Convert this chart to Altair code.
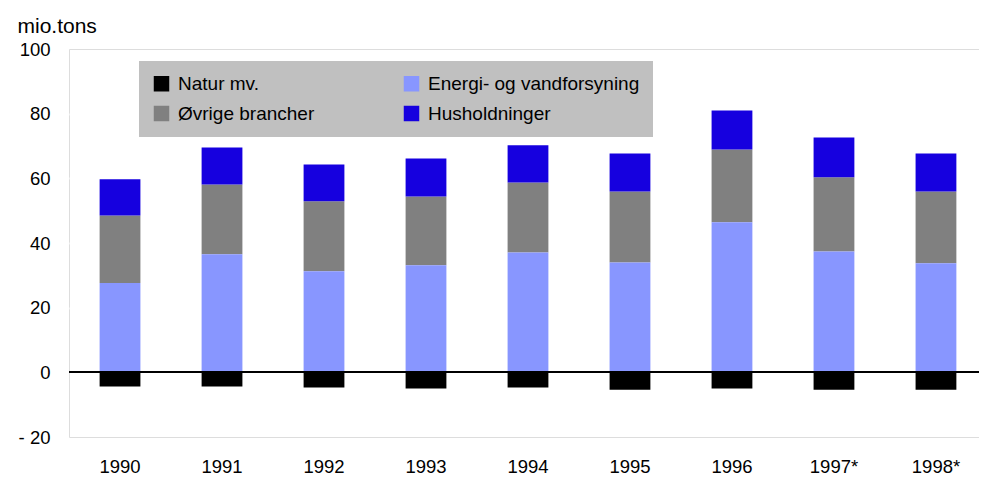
import altair as alt
import pandas as pd

years = ["1990", "1991", "1992", "1993", "1994", "1995", "1996", "1997*", "1998*"]
natur = [-4.4, -4.4, -4.7, -5.0, -4.7, -5.4, -5.0, -5.4, -5.4]
energi = [27.6, 36.5, 31.3, 33.1, 37.1, 34.0, 46.4, 37.4, 33.7]
ovrige = [20.9, 21.6, 21.6, 21.3, 21.6, 21.9, 22.5, 22.9, 22.2]
hush = [11.2, 11.4, 11.4, 11.7, 11.5, 11.8, 12.1, 12.3, 11.8]

# legend order (column-major: col 1 = Natur, Øvrige; col 2 = Energi, Husholdninger)
series_names = ["Natur mv.", "Øvrige brancher", "Energi- og vandforsyning", "Husholdninger"]
series_colors = ["#000000", "#808080", "#8896FF", "#1600DF"]
stack_order = {"Natur mv.": 0, "Energi- og vandforsyning": 1, "Øvrige brancher": 2, "Husholdninger": 3}
series_values = {"Natur mv.": natur, "Energi- og vandforsyning": energi,
                 "Øvrige brancher": ovrige, "Husholdninger": hush}
y_ticks = [-20, 0, 20, 40, 60, 80, 100]

rows = []
for i, yr in enumerate(years):
    for name in series_names:
        rows.append({"year": yr, "series": name, "value": series_values[name][i],
                     "ord": stack_order[name]})
df = pd.DataFrame(rows)

FONT = "Liberation Sans"

base = alt.Chart(df)

bars = base.mark_bar().encode(
    x=alt.X(
        "year:N",
        sort=years,
        scale=alt.Scale(paddingInner=0.6, paddingOuter=0.261, align=0.575),
        axis=alt.Axis(
            title=None, labelAngle=0, ticks=False, tickSize=0, domain=False,
            labelPadding=29, labelBaseline="middle", labelFont=FONT,
            labelFontSize=18.5, labelColor="black",
        ),
    ),
    y=alt.Y(
        "value:Q",
        stack="zero",
        scale=alt.Scale(domain=[-20, 100], nice=False),
        axis=alt.Axis(
            values=y_ticks,
            title="mio.tons",
            titleAngle=0, titleAlign="left", titleBaseline="alphabetic",
            titleX=-52, titleY=-17, titleFont=FONT, titleFontSize=21,
            titleFontWeight="normal", titleColor="black",
            labelExpr="datum.value < 0 ? '-  ' + format(-datum.value, 'd') : datum.label",
            labelFont=FONT, labelFontSize=18.5, labelColor="black",
            labelPadding=19, ticks=False, tickSize=0, domain=False,
            grid=True, gridWidth=2,
            gridColor={"condition": {"test": "datum.value == 100 || datum.value == -20 || datum.value == 0", "value": "transparent"}, "value": "white"},
        ),
    ),
    color=alt.Color(
        "series:N",
        scale=alt.Scale(domain=series_names, range=series_colors),
        legend=alt.Legend(
            title=None, orient="none", legendX=70, legendY=12, columns=2,
            fillColor="#C0C0C0", padding=13, symbolType="square", symbolSize=240,
            symbolStrokeWidth=0, symbolOpacity=1, labelOffset=7, labelFont=FONT,
            labelFontSize=19, labelColor="black", labelLimit=400,
            rowPadding=10, columnPadding=87,
        ),
    ),
    order=alt.Order("ord:Q"),
)

zero = base.mark_rule(color="black", strokeWidth=1).encode(y=alt.datum(0))

chart = (
    alt.layer(bars, zero)
    .properties(
        width=910, height=388,
        autosize=alt.AutoSizeParams(type="none"),
        padding={"left": 61, "top": 41, "right": 0, "bottom": 41},
    )
    .configure_view(fill="#C0C0C0", stroke=None)
    .configure(background="white")
)

chart.save("out.html", embed_options={"renderer": "svg", "actions": False})
